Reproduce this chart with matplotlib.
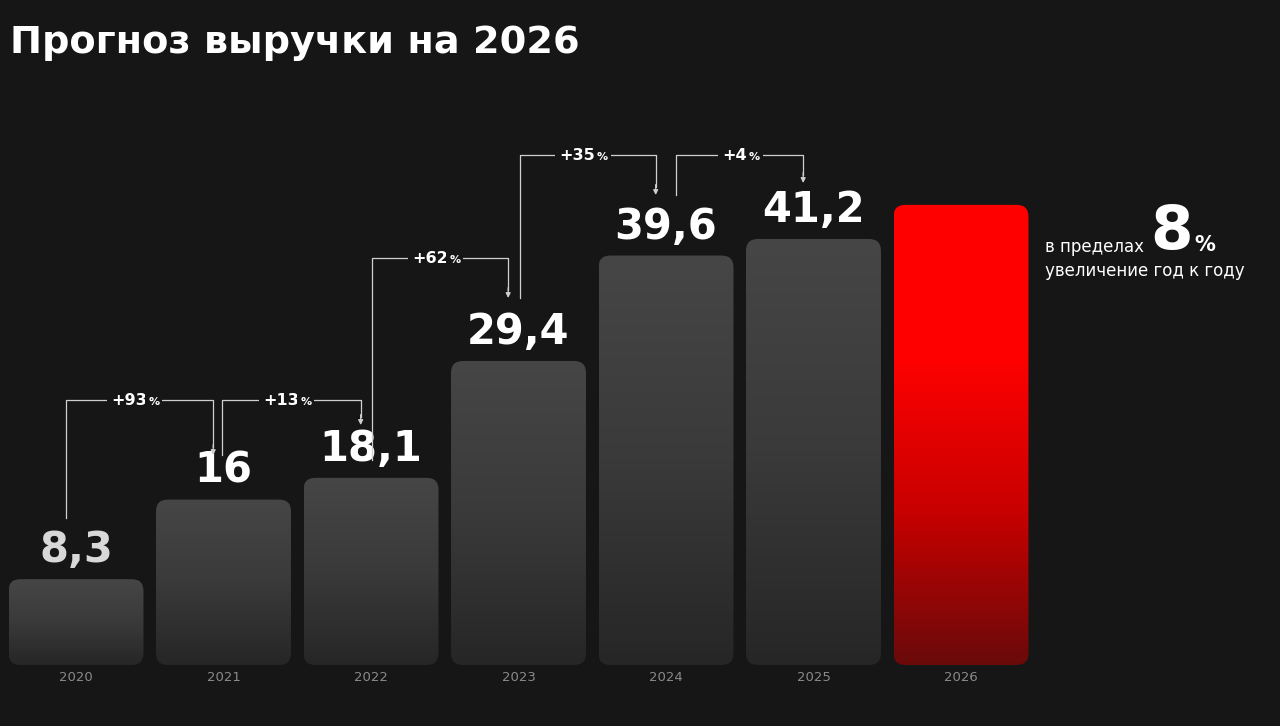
import matplotlib
matplotlib.use("Agg")
import matplotlib.pyplot as plt
import numpy as np
from matplotlib.patches import FancyBboxPatch
from matplotlib.colors import LinearSegmentedColormap

years = ["2020", "2021", "2022", "2023", "2024", "2025", "2026"]
values = [8.3, 16.0, 18.1, 29.4, 39.6, 41.2, 44.5]
labels = ["8,3", "16", "18,1", "29,4", "39,6", "41,2", ""]
growth = ["+93", "+13", "+62", "+35", "+4"]

BG = "#161616"
fig = plt.figure(figsize=(12.8, 7.26), dpi=100, facecolor=BG)
ax = fig.add_axes([0, 0, 1, 1])
ax.set_facecolor(BG)
ppu = 10.34
ax.set_xlim(-76/147.5, (1280-76)/147.5)
ax.set_ylim(-(726-665)/ppu, 665/ppu)
ax.axis("off")

gray = LinearSegmentedColormap.from_list("g", ["#262626", "#3a3a3a", "#464646"])
red = LinearSegmentedColormap.from_list("r", ["#6a0a0a", "#c80000", "#ff0000", "#ff0000"])
w = 0.915
grad = np.linspace(0, 1, 256).reshape(-1, 1)
for i, (v, lab) in enumerate(zip(values, labels)):
    x0 = i - w/2
    p = FancyBboxPatch((x0, 0), w, v, boxstyle="round,pad=0,rounding_size=0.08",
                       mutation_aspect=147.5/ppu, fc="none", ec="none")
    ax.add_patch(p)
    cm = red if i == 6 else gray
    im = ax.imshow(grad, extent=(x0, x0+w, 0, v), origin="lower", cmap=cm,
                   aspect="auto", zorder=1)
    im.set_clip_path(p)
    ax.text(i, -1.25, years[i], ha="center", va="center", color="#8a8a8a", fontsize=9.5)
    if lab:
        ax.text(i, v + 2.8, lab, ha="center", va="center", fontsize=30, fontweight="bold",
                color="#d8d8d8" if i == 0 else "white")

starts = [(518-665)/-ppu, (665-455)/ppu, (665-460)/ppu, (665-298)/ppu, (665-195)/ppu]
tops = [(665-400)/ppu, (665-400)/ppu, (665-258)/ppu, (665-155)/ppu, (665-155)/ppu]
ends = [(665-455)/ppu, (665-425)/ppu, (665-298)/ppu, (665-195)/ppu, (665-183)/ppu]
sx = [-0.07, -0.01, 0.01, 0.01, 0.07]
for k, g in enumerate(growth):
    xa = k + sx[k]
    xb = k + 1 - 0.07
    ax.plot([xa, xa, xb, xb], [starts[k], tops[k], tops[k], ends[k] + 0.8],
            color="#cfcfcf", lw=0.9, zorder=3)
    ax.annotate("", xy=(xb, ends[k]), xytext=(xb, ends[k] + 1.0),
                arrowprops=dict(arrowstyle="-|>", color="#cfcfcf", lw=0.9,
                                mutation_scale=7, shrinkA=0, shrinkB=0))
    xm = (xa + xb) / 2
    ax.text(xm + 0.05, tops[k], g, ha="right", va="center", fontsize=11.5,
            fontweight="bold", color="white",
            bbox=dict(fc=BG, ec="none", pad=3))
    ax.text(xm + 0.06, tops[k] - 0.2, "%", ha="left", va="center", fontsize=8,
            fontweight="bold", color="white", bbox=dict(fc=BG, ec="none", pad=2))

fig.text(10/1280, 1 - 43/726, "Прогноз выручки на 2026", fontsize=27.5,
         fontweight="bold", color="white", va="center", ha="left")
fig.text(1045/1280, 1 - 247/726, "в пределах", fontsize=12, color="white", va="center")
fig.text(1150/1280, 1 - 232/726, "8", fontsize=44, fontweight="bold", color="white", va="center")
fig.text(1194/1280, 1 - 245/726, "%", fontsize=15, fontweight="bold", color="white", va="center")
fig.text(1045/1280, 1 - 271/726, "увеличение год к году", fontsize=12, color="white", va="center")

fig.savefig("out.png", dpi=100, facecolor=BG)
